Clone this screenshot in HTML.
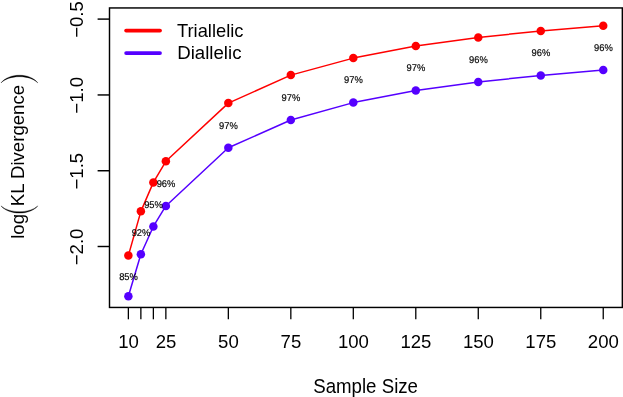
<!DOCTYPE html>
<html><head><meta charset="utf-8"><title>plot</title>
<style>
html,body{margin:0;padding:0;background:#fff;}
body{width:623px;height:397px;overflow:hidden;}
svg{display:block;will-change:transform;font-family:"Liberation Sans",sans-serif;}
</style></head><body>
<svg width="623" height="397" viewBox="0 0 623 397">
<rect x="0" y="0" width="623" height="397" fill="#ffffff"/>
<polyline points="128.37,255.60 140.87,211.35 153.37,182.40 165.86,161.30 228.34,103.10 290.83,75.10 353.31,58.10 415.79,46.00 478.27,37.50 540.76,30.90 603.24,25.70" fill="none" stroke="#ff0000" stroke-width="1.5" stroke-linejoin="round" stroke-linecap="round"/>
<circle cx="128.37" cy="255.60" r="4.25" fill="#ff0000"/>
<circle cx="140.87" cy="211.35" r="4.25" fill="#ff0000"/>
<circle cx="153.37" cy="182.40" r="4.25" fill="#ff0000"/>
<circle cx="165.86" cy="161.30" r="4.25" fill="#ff0000"/>
<circle cx="228.34" cy="103.10" r="4.25" fill="#ff0000"/>
<circle cx="290.83" cy="75.10" r="4.25" fill="#ff0000"/>
<circle cx="353.31" cy="58.10" r="4.25" fill="#ff0000"/>
<circle cx="415.79" cy="46.00" r="4.25" fill="#ff0000"/>
<circle cx="478.27" cy="37.50" r="4.25" fill="#ff0000"/>
<circle cx="540.76" cy="30.90" r="4.25" fill="#ff0000"/>
<circle cx="603.24" cy="25.70" r="4.25" fill="#ff0000"/>
<polyline points="128.37,296.20 140.87,254.20 153.37,226.45 165.86,205.95 228.34,147.80 290.83,120.00 353.31,102.60 415.79,90.60 478.27,82.00 540.76,75.40 603.24,70.00" fill="none" stroke="#5500ff" stroke-width="1.5" stroke-linejoin="round" stroke-linecap="round"/>
<circle cx="128.37" cy="296.20" r="4.25" fill="#5500ff"/>
<circle cx="140.87" cy="254.20" r="4.25" fill="#5500ff"/>
<circle cx="153.37" cy="226.45" r="4.25" fill="#5500ff"/>
<circle cx="165.86" cy="205.95" r="4.25" fill="#5500ff"/>
<circle cx="228.34" cy="147.80" r="4.25" fill="#5500ff"/>
<circle cx="290.83" cy="120.00" r="4.25" fill="#5500ff"/>
<circle cx="353.31" cy="102.60" r="4.25" fill="#5500ff"/>
<circle cx="415.79" cy="90.60" r="4.25" fill="#5500ff"/>
<circle cx="478.27" cy="82.00" r="4.25" fill="#5500ff"/>
<circle cx="540.76" cy="75.40" r="4.25" fill="#5500ff"/>
<circle cx="603.24" cy="70.00" r="4.25" fill="#5500ff"/>
<rect x="109.5" y="7.95" width="512.85" height="299.50" fill="none" stroke="#000" stroke-width="1.45"/>
<line x1="128.37" y1="307.45" x2="128.37" y2="319.3" stroke="#000" stroke-width="1.3"/>
<line x1="140.87" y1="307.45" x2="140.87" y2="319.3" stroke="#000" stroke-width="1.3"/>
<line x1="153.37" y1="307.45" x2="153.37" y2="319.3" stroke="#000" stroke-width="1.3"/>
<line x1="165.86" y1="307.45" x2="165.86" y2="319.3" stroke="#000" stroke-width="1.3"/>
<line x1="228.34" y1="307.45" x2="228.34" y2="319.3" stroke="#000" stroke-width="1.3"/>
<line x1="290.83" y1="307.45" x2="290.83" y2="319.3" stroke="#000" stroke-width="1.3"/>
<line x1="353.31" y1="307.45" x2="353.31" y2="319.3" stroke="#000" stroke-width="1.3"/>
<line x1="415.79" y1="307.45" x2="415.79" y2="319.3" stroke="#000" stroke-width="1.3"/>
<line x1="478.27" y1="307.45" x2="478.27" y2="319.3" stroke="#000" stroke-width="1.3"/>
<line x1="540.76" y1="307.45" x2="540.76" y2="319.3" stroke="#000" stroke-width="1.3"/>
<line x1="603.24" y1="307.45" x2="603.24" y2="319.3" stroke="#000" stroke-width="1.3"/>
<text transform="translate(128.47,348.0) scale(1,1.035)" font-size="18.6" text-anchor="middle" fill="#000">10</text>
<text transform="translate(165.96,348.0) scale(1,1.035)" font-size="18.6" text-anchor="middle" fill="#000">25</text>
<text transform="translate(228.44,348.0) scale(1,1.035)" font-size="18.6" text-anchor="middle" fill="#000">50</text>
<text transform="translate(290.93,348.0) scale(1,1.035)" font-size="18.6" text-anchor="middle" fill="#000">75</text>
<text transform="translate(353.41,348.0) scale(1,1.035)" font-size="18.6" text-anchor="middle" fill="#000">100</text>
<text transform="translate(415.89,348.0) scale(1,1.035)" font-size="18.6" text-anchor="middle" fill="#000">125</text>
<text transform="translate(478.38,348.0) scale(1,1.035)" font-size="18.6" text-anchor="middle" fill="#000">150</text>
<text transform="translate(540.86,348.0) scale(1,1.035)" font-size="18.6" text-anchor="middle" fill="#000">175</text>
<text transform="translate(603.34,348.0) scale(1,1.035)" font-size="18.6" text-anchor="middle" fill="#000">200</text>
<line x1="109.5" y1="19.1" x2="97.6" y2="19.1" stroke="#000" stroke-width="1.45"/>
<text transform="translate(83.2,19.50) rotate(-90) scale(1,1.02)" font-size="18.6" text-anchor="middle" fill="#000">−0.5</text>
<line x1="109.5" y1="94.95" x2="97.6" y2="94.95" stroke="#000" stroke-width="1.45"/>
<text transform="translate(83.2,95.35) rotate(-90) scale(1,1.02)" font-size="18.6" text-anchor="middle" fill="#000">−1.0</text>
<line x1="109.5" y1="170.75" x2="97.6" y2="170.75" stroke="#000" stroke-width="1.45"/>
<text transform="translate(83.2,171.15) rotate(-90) scale(1,1.02)" font-size="18.6" text-anchor="middle" fill="#000">−1.5</text>
<line x1="109.5" y1="246.5" x2="97.6" y2="246.5" stroke="#000" stroke-width="1.45"/>
<text transform="translate(83.2,246.90) rotate(-90) scale(1,1.02)" font-size="18.6" text-anchor="middle" fill="#000">−2.0</text>
<text transform="translate(128.52,279.70) scale(1,1.045)" font-size="9.4" text-rendering="geometricPrecision" text-anchor="middle" fill="#000" stroke="#000" stroke-width="0.15">85%</text>
<text transform="translate(141.02,236.30) scale(1,1.045)" font-size="9.4" text-rendering="geometricPrecision" text-anchor="middle" fill="#000" stroke="#000" stroke-width="0.15">92%</text>
<text transform="translate(153.52,207.80) scale(1,1.045)" font-size="9.4" text-rendering="geometricPrecision" text-anchor="middle" fill="#000" stroke="#000" stroke-width="0.15">95%</text>
<text transform="translate(166.01,186.90) scale(1,1.045)" font-size="9.4" text-rendering="geometricPrecision" text-anchor="middle" fill="#000" stroke="#000" stroke-width="0.15">96%</text>
<text transform="translate(228.49,128.90) scale(1,1.045)" font-size="9.4" text-rendering="geometricPrecision" text-anchor="middle" fill="#000" stroke="#000" stroke-width="0.15">97%</text>
<text transform="translate(290.98,101.00) scale(1,1.045)" font-size="9.4" text-rendering="geometricPrecision" text-anchor="middle" fill="#000" stroke="#000" stroke-width="0.15">97%</text>
<text transform="translate(353.46,83.40) scale(1,1.045)" font-size="9.4" text-rendering="geometricPrecision" text-anchor="middle" fill="#000" stroke="#000" stroke-width="0.15">97%</text>
<text transform="translate(415.94,71.40) scale(1,1.045)" font-size="9.4" text-rendering="geometricPrecision" text-anchor="middle" fill="#000" stroke="#000" stroke-width="0.15">97%</text>
<text transform="translate(478.42,63.25) scale(1,1.045)" font-size="9.4" text-rendering="geometricPrecision" text-anchor="middle" fill="#000" stroke="#000" stroke-width="0.15">96%</text>
<text transform="translate(540.91,56.10) scale(1,1.045)" font-size="9.4" text-rendering="geometricPrecision" text-anchor="middle" fill="#000" stroke="#000" stroke-width="0.15">96%</text>
<text transform="translate(603.39,51.35) scale(1,1.045)" font-size="9.4" text-rendering="geometricPrecision" text-anchor="middle" fill="#000" stroke="#000" stroke-width="0.15">96%</text>
<line x1="126.1" y1="30.6" x2="160.0" y2="30.6" stroke="#ff0000" stroke-width="3.75" stroke-linecap="round"/>
<line x1="126.1" y1="53.1" x2="160.0" y2="53.1" stroke="#5500ff" stroke-width="3.75" stroke-linecap="round"/>
<text transform="translate(177.0,37.45) scale(0.985,1)" font-size="18.6" fill="#000">Triallelic</text>
<text transform="translate(177.2,59.4) scale(1.004,1)" font-size="18.6" fill="#000">Diallelic</text>
<text transform="translate(365.6,393.2) scale(1.005,1.045)" font-size="18.6" text-anchor="middle" fill="#000">Sample Size</text>
<text transform="translate(24.2,238.8) rotate(-90)" font-size="18.6" fill="#000">log</text>
<text transform="translate(24.2,206.2) rotate(-90)" font-size="18.6" fill="#000">KL Divergence</text>
<path d="M1.0,205.9 C9,215.4 30,215.4 37.8,205.9 C30,213.65 9,213.65 1.0,205.9 Z" fill="#000" stroke="#000" stroke-width="0.35"/>
<path d="M1.0,82.9 C9,72.7 30,72.7 37.8,82.9 C30,74.55 9,74.55 1.0,82.9 Z" fill="#000" stroke="#000" stroke-width="0.35"/>
</svg>
</body></html>
